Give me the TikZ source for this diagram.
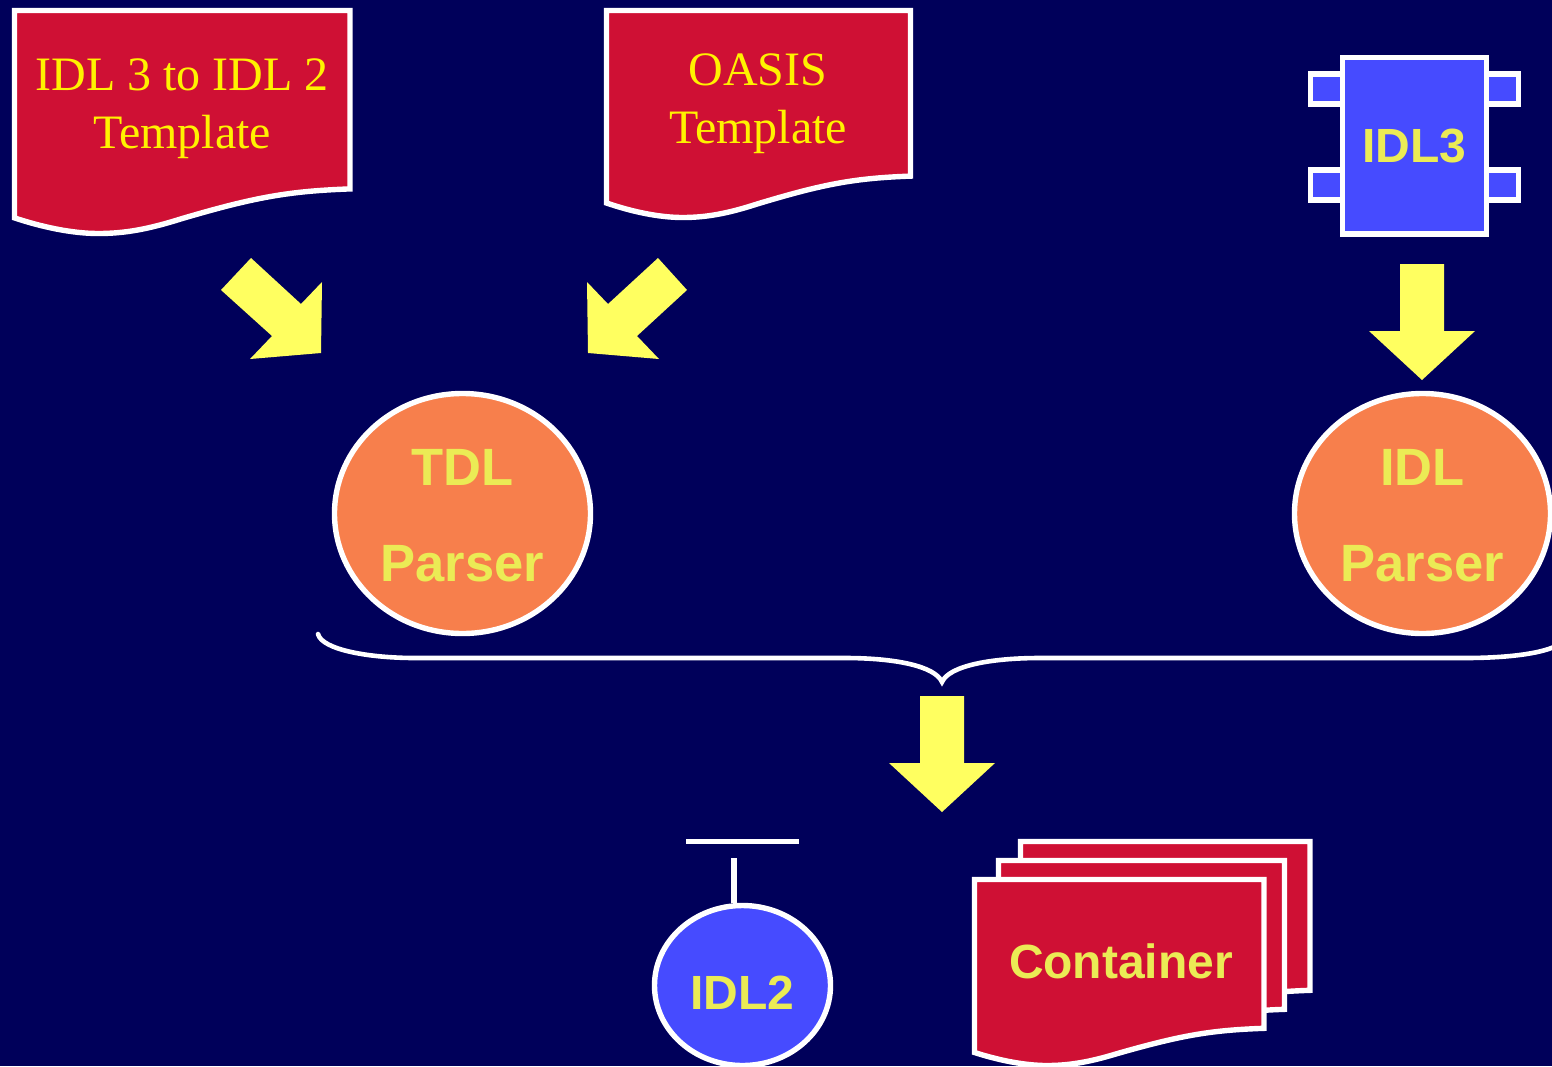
\documentclass[tikz,border=0pt]{standalone}
\usepackage{fontspec}
\setmainfont{Liberation Serif}
\setsansfont{Liberation Sans}
\usepackage{tikz}
\usetikzlibrary{shapes.geometric}
\definecolor{bgblue}{RGB}{0,0,90}
\definecolor{docred}{RGB}{207,16,52}
\definecolor{compblue}{RGB}{70,75,255}
\definecolor{parserorange}{RGB}{247,127,76}
\definecolor{labelyellow}{RGB}{235,235,85}
\definecolor{arrowyellow}{RGB}{255,255,96}
\tikzset{
  outline/.style={draw=white, line width=5.4pt},
  bigarrow/.style={fill=arrowyellow},
  parser/.style={outline, fill=parserorange, ellipse, minimum width=256pt, minimum height=240pt, inner sep=0pt},
  seriflabel/.style={text=yellow, font=\rmfamily\fontsize{48}{58}\selectfont, align=center},
  sanslabel/.style={text=labelyellow, font=\sffamily\bfseries\fontsize{48}{58}\selectfont, align=center},
  parserlabel/.style={sanslabel, font=\sffamily\bfseries\fontsize{52.5}{96}\selectfont},
}
\newcommand{\docsheet}[4]{
  \draw[outline, fill=docred, shift={(#1,#2)}, xscale=#3, yscale=#4]
    (0,0) -- (1,0) -- (1,.80)
    .. controls (.82,.81) and (.72,.835) .. (.495,.935)
    .. controls (.40,.98) and (.33,1) .. (.25,1)
    .. controls (.17,1) and (.08,.97) .. (0,.93) -- cycle;
}
\begin{document}
\begin{tikzpicture}[x=1pt,y=-1pt]
      \useasboundingbox (0,0) rectangle (1552,1066);
      \fill[bgblue] (0,0) rectangle (1552,1066);
      \docsheet{14.5}{10.5}{335.5}{223}
      \docsheet{606.5}{10.5}{304}{207}
      \docsheet{1020.5}{841.5}{289.5}{186}
      \docsheet{998.5}{860.5}{286}{186}
      \docsheet{974.5}{879.5}{289.5}{186}
      \node[seriflabel] (idltemplate) at (182,109) {IDL 3 to IDL 2\\Template};
      \node[seriflabel] (oasistemplate) at (758,103.5) {OASIS\\Template};
      \node[sanslabel] (container) at (1121,961) {Container};
      \foreach \px in {1310.5,1486.5}
        \foreach \py in {74,170}
          \draw[outline, fill=compblue] (\px,\py) rectangle +(32,30);
      \node (idl3) at (1414.5,145.8) [outline, fill=compblue, sanslabel, minimum width=144pt, minimum height=176.5pt, inner sep=0pt] {IDL3};
      \node (tdlparser) at (462.5,513.5) [parser] {};
      \node (idlparser) at (1422.5,513.5) [parser] {};
      \node[parserlabel] (tdllabel) at (462.5,515.5) {TDL\\Parser};
      \node[parserlabel] (idllabel) at (1422.5,515.5) {IDL\\Parser};
      \node (idl2) at (742.5,985.5) [outline, fill=compblue, ellipse, minimum width=176pt, minimum height=160pt, inner sep=0pt] {};
      \node[sanslabel] (idl2label) at (742,993) {IDL2};
      \fill[bigarrow] (251,258) -- (301,304) -- (322,282) -- (321,353) -- (250,359) -- (272,336) -- (221,290) -- cycle;
      \fill[bigarrow] (658,258) -- (608,304) -- (587,282) -- (588,353) -- (659,359) -- (637,336) -- (687,290) -- cycle;
      \foreach \ax/\ay in {1422/264, 942/696}
        \fill[bigarrow, shift={(\ax,\ay)}] (-22,0) -- (22,0) -- (22,67) -- (53,67) -- (0,116) -- (-53,67) -- (-22,67) -- cycle;
      \coordinate (braceleft) at (318,634);
      \coordinate (bracetip) at (942,682);
      \coordinate (braceright) at (1556,646);
      \draw[draw=white, line width=4.6pt, line cap=round] (braceleft) .. controls (322,650) and (370,658) .. (415,658)
        -- (845,658) .. controls (895,658) and (935,666) .. (bracetip)
        .. controls (949,666) and (990,658) .. (1040,658)
        -- (1465,658) .. controls (1505,658) and (1540,654) .. (braceright);
      \coordinate (barleft) at (686,841.5);
      \coordinate (barright) at (799,841.5);
      \coordinate (stem) at (734,858);
      \draw[draw=white, line width=5.4pt] (barleft) -- (barright);
      \draw[draw=white, line width=5.4pt] (stem) -- (stem |- idl2.north);
\end{tikzpicture}
\end{document}
